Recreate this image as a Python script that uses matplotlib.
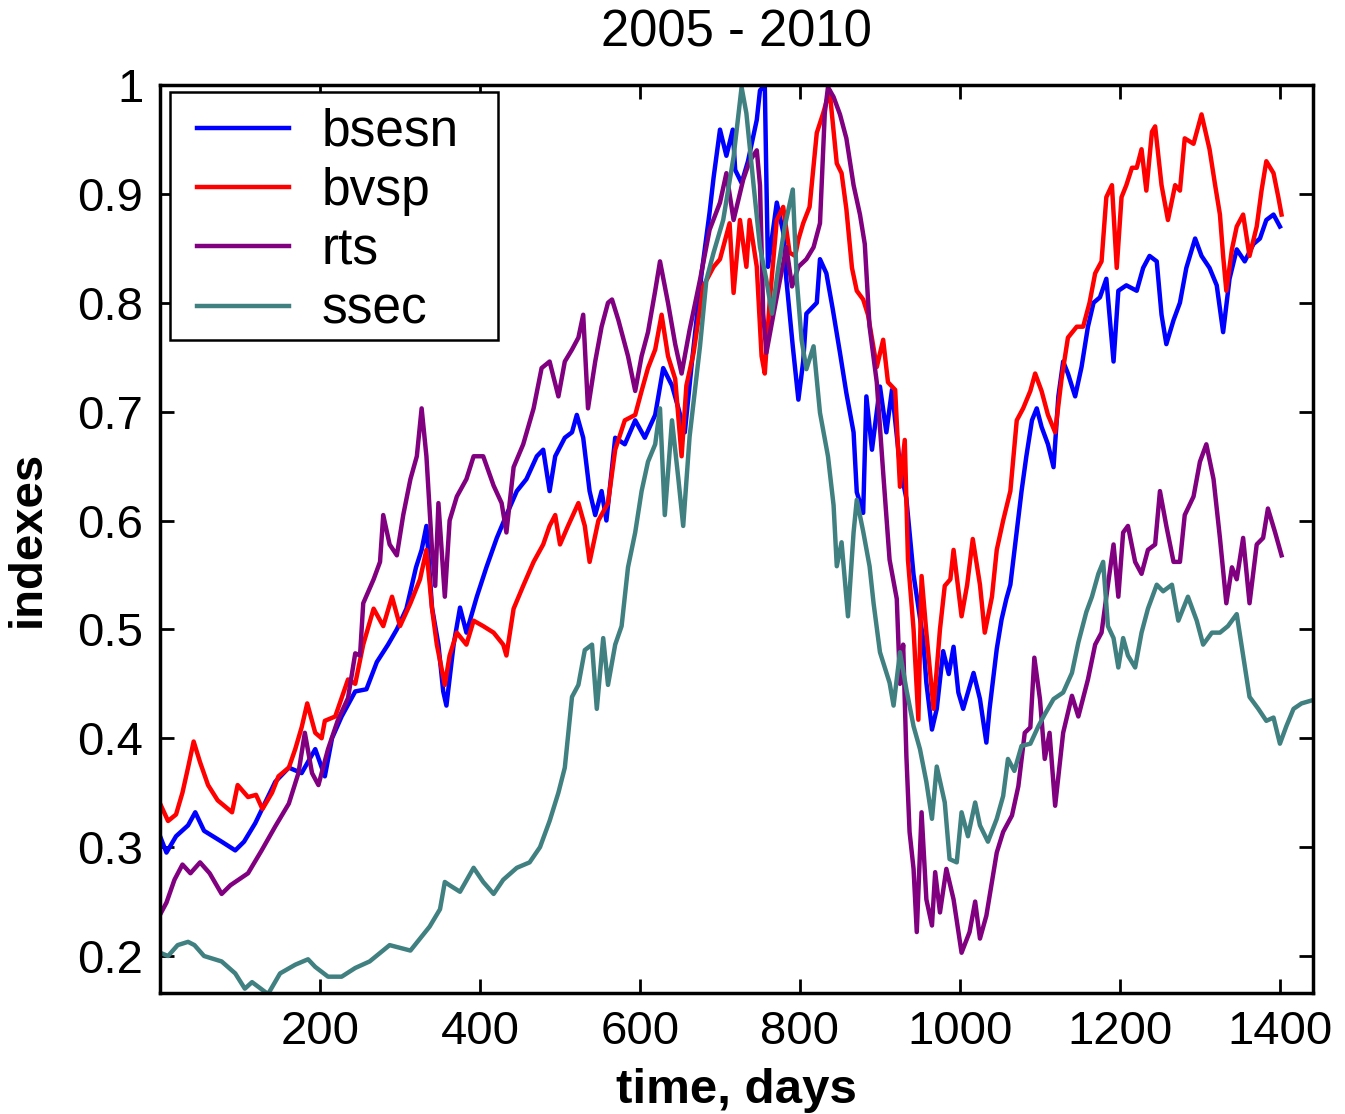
import matplotlib
matplotlib.use("Agg")
import matplotlib.pyplot as plt
from matplotlib.patches import Rectangle
from matplotlib.ticker import FuncFormatter

plt.rcParams['font.family'] = ['Liberation Sans', 'DejaVu Sans']

# values (day, normalised index)
bsesn_x = [0, 8, 20, 35, 44, 55, 77, 94, 105, 119, 144, 161, 177, 194, 206, 215, 227, 244, 258, 271,
           285, 296, 308, 320, 327, 333, 340, 348, 354, 358, 367, 375, 383, 396, 408, 421, 433, 446, 458, 471,
           479, 487, 494, 506, 515, 521, 529, 537, 544, 552, 558, 569, 581, 594, 606, 619, 629, 640, 648, 656,
           665, 677, 687, 692, 700, 708, 716, 719, 727, 735, 746, 750, 756, 758, 760, 771, 779, 783, 791, 798,
           804, 808, 821, 825, 833, 841, 850, 858, 867, 871, 879, 883, 890, 900, 908, 915, 925, 933, 942, 954,
           958, 965, 971, 979, 986, 992, 998, 1004, 1017, 1025, 1033, 1037, 1046, 1052, 1058, 1063, 1069, 1077, 1083, 1090,
           1096, 1102, 1110, 1117, 1123, 1129, 1135, 1144, 1152, 1160, 1167, 1175, 1183, 1192, 1198, 1208, 1221, 1229, 1237, 1246,
           1252, 1258, 1267, 1275, 1283, 1294, 1302, 1312, 1321, 1329, 1337, 1346, 1356, 1367, 1375, 1383, 1392, 1400]
bsesn_y = [0.31, 0.295, 0.31, 0.32, 0.332, 0.315, 0.305, 0.297, 0.305, 0.322, 0.36, 0.373, 0.368, 0.39, 0.365, 0.40, 0.42, 0.443, 0.445, 0.47,
           0.486, 0.5, 0.519, 0.557, 0.573, 0.595, 0.52, 0.486, 0.443, 0.43, 0.486, 0.52, 0.497, 0.53, 0.557, 0.584, 0.605, 0.627, 0.638, 0.659,
           0.665, 0.627, 0.659, 0.676, 0.681, 0.697, 0.676, 0.627, 0.605, 0.627, 0.6, 0.676, 0.67, 0.692, 0.676, 0.697, 0.74, 0.724, 0.703, 0.681,
           0.746, 0.827, 0.883, 0.915, 0.959, 0.935, 0.959, 0.922, 0.91, 0.93, 0.968, 0.995, 1.0, 0.913, 0.833, 0.892, 0.865, 0.821, 0.76, 0.711,
           0.746, 0.79, 0.8, 0.84, 0.827, 0.794, 0.754, 0.717, 0.681, 0.626, 0.607, 0.714, 0.665, 0.723, 0.681, 0.72, 0.65, 0.62, 0.55, 0.491,
           0.451, 0.408, 0.427, 0.48, 0.459, 0.484, 0.442, 0.427, 0.46, 0.436, 0.396, 0.427, 0.482, 0.509, 0.528, 0.541, 0.578, 0.627, 0.659, 0.692,
           0.703, 0.686, 0.67, 0.649, 0.714, 0.746, 0.735, 0.714, 0.741, 0.778, 0.8, 0.805, 0.822, 0.746, 0.811, 0.816, 0.811, 0.832, 0.843, 0.838,
           0.789, 0.762, 0.784, 0.8, 0.832, 0.859, 0.843, 0.832, 0.816, 0.773, 0.822, 0.849, 0.838, 0.854, 0.859, 0.876, 0.881, 0.87]

bvsp_x = [0, 10, 20, 28, 35, 42, 50, 60, 72, 90, 97, 110, 120, 128, 140, 148, 161, 169, 177, 184,
          194, 202, 206, 219, 227, 235, 244, 254, 267, 279, 290, 300, 313, 325, 333, 340, 346, 356, 362, 371,
          383, 392, 404, 417, 429, 433, 442, 454, 467, 479, 487, 494, 500, 510, 523, 531, 537, 548, 560, 569,
          581, 594, 602, 610, 619, 627, 635, 644, 652, 658, 667, 679, 692, 700, 712, 717, 725, 733, 737, 746,
          752, 756, 762, 771, 779, 787, 794, 798, 804, 812, 821, 829, 837, 846, 852, 858, 865, 871, 879, 885,
          896, 904, 910, 919, 925, 931, 935, 942, 948, 952, 958, 967, 975, 981, 988, 992, 1002, 1009, 1016, 1025,
          1031, 1040, 1046, 1054, 1063, 1071, 1079, 1088, 1094, 1102, 1110, 1119, 1127, 1135, 1146, 1154, 1162, 1169, 1177, 1183,
          1190, 1196, 1202, 1208, 1215, 1221, 1227, 1233, 1240, 1244, 1252, 1260, 1269, 1275, 1281, 1292, 1302, 1312, 1319, 1325,
          1329, 1333, 1340, 1346, 1354, 1362, 1371, 1377, 1383, 1392, 1398, 1402]
bvsp_y = [0.34, 0.324, 0.33, 0.35, 0.373, 0.397, 0.378, 0.357, 0.343, 0.332, 0.357, 0.346, 0.348, 0.335, 0.35, 0.365, 0.373, 0.39, 0.41, 0.432,
          0.405, 0.40, 0.416, 0.42, 0.437, 0.454, 0.45, 0.486, 0.519, 0.503, 0.53, 0.503, 0.524, 0.546, 0.573, 0.519, 0.486, 0.449, 0.476, 0.497,
          0.486, 0.508, 0.503, 0.497, 0.486, 0.476, 0.519, 0.54, 0.562, 0.578, 0.595, 0.605, 0.578, 0.595, 0.616, 0.595, 0.562, 0.6, 0.616, 0.665,
          0.692, 0.697, 0.719, 0.74, 0.757, 0.789, 0.751, 0.73, 0.659, 0.724, 0.754, 0.815, 0.833, 0.84, 0.873, 0.809, 0.876, 0.833, 0.876, 0.833,
          0.751, 0.735, 0.8, 0.876, 0.888, 0.846, 0.843, 0.858, 0.873, 0.888, 0.956, 0.974, 0.995, 0.928, 0.919, 0.886, 0.832, 0.811, 0.803, 0.789,
          0.741, 0.766, 0.727, 0.72, 0.631, 0.674, 0.564, 0.5, 0.417, 0.549, 0.497, 0.427, 0.5, 0.54, 0.546, 0.573, 0.512, 0.541, 0.583, 0.541,
          0.497, 0.53, 0.573, 0.6, 0.627, 0.692, 0.703, 0.719, 0.735, 0.719, 0.697, 0.681, 0.73, 0.768, 0.778, 0.778, 0.8, 0.827, 0.838, 0.897,
          0.908, 0.832, 0.897, 0.908, 0.924, 0.924, 0.941, 0.903, 0.957, 0.962, 0.908, 0.876, 0.908, 0.903, 0.951, 0.946, 0.973, 0.941, 0.908, 0.881,
          0.843, 0.811, 0.849, 0.87, 0.881, 0.843, 0.87, 0.903, 0.93, 0.919, 0.897, 0.881]

rts_x = [0, 8, 18, 28, 38, 50, 62, 77, 88, 110, 127, 144, 161, 173, 181, 190, 198, 210, 222, 235,
         244, 250, 254, 267, 275, 279, 287, 296, 304, 313, 321, 327, 333, 340, 344, 348, 356, 362, 371, 383,
         392, 404, 417, 427, 433, 442, 454, 467, 477, 487, 498, 506, 515, 523, 529, 535, 544, 552, 560, 565,
         573, 585, 594, 602, 610, 619, 625, 635, 644, 652, 662, 675, 687, 700, 708, 717, 729, 737, 746, 750,
         754, 758, 767, 775, 783, 790, 798, 808, 817, 825, 831, 835, 842, 850, 858, 867, 875, 881, 887, 896,
         904, 912, 921, 925, 929, 933, 937, 942, 946, 952, 958, 965, 969, 975, 983, 992, 1002, 1012, 1019, 1025,
         1033, 1040, 1046, 1054, 1065, 1073, 1081, 1088, 1093, 1100, 1106, 1112, 1119, 1129, 1140, 1148, 1160, 1169, 1177, 1185,
         1192, 1198, 1204, 1210, 1219, 1227, 1235, 1244, 1250, 1258, 1267, 1275, 1281, 1292, 1300, 1308, 1317, 1325, 1333, 1340,
         1346, 1354, 1362, 1371, 1379, 1385, 1394, 1402]
rts_y = [0.238, 0.249, 0.27, 0.284, 0.276, 0.286, 0.276, 0.257, 0.265, 0.276, 0.297, 0.319, 0.34, 0.368, 0.405, 0.368, 0.357, 0.39, 0.416, 0.437,
         0.478, 0.476, 0.524, 0.546, 0.562, 0.605, 0.578, 0.568, 0.605, 0.638, 0.659, 0.703, 0.659, 0.573, 0.54, 0.616, 0.53, 0.6, 0.622, 0.638,
         0.659, 0.659, 0.632, 0.616, 0.589, 0.649, 0.67, 0.703, 0.74, 0.746, 0.714, 0.746, 0.757, 0.768, 0.789, 0.703, 0.746, 0.778, 0.8, 0.803,
         0.784, 0.751, 0.719, 0.751, 0.773, 0.811, 0.838, 0.8, 0.762, 0.735, 0.775, 0.821, 0.867, 0.892, 0.919, 0.876, 0.913, 0.93, 0.94, 0.908,
         0.79, 0.754, 0.79, 0.821, 0.851, 0.815, 0.833, 0.84, 0.851, 0.873, 0.974, 0.998, 0.989, 0.973, 0.951, 0.908, 0.881, 0.854, 0.778, 0.727,
         0.644, 0.564, 0.528, 0.45, 0.486, 0.384, 0.314, 0.28, 0.222, 0.332, 0.252, 0.228, 0.277, 0.24, 0.28, 0.252, 0.203, 0.222, 0.25, 0.216,
         0.237, 0.268, 0.295, 0.314, 0.329, 0.356, 0.405, 0.41, 0.474, 0.436, 0.381, 0.405, 0.338, 0.405, 0.439, 0.42, 0.454, 0.486, 0.497, 0.541,
         0.578, 0.53, 0.589, 0.595, 0.562, 0.551, 0.573, 0.578, 0.627, 0.595, 0.562, 0.562, 0.605, 0.622, 0.654, 0.67, 0.638, 0.584, 0.524, 0.557,
         0.546, 0.584, 0.524, 0.578, 0.584, 0.611, 0.589, 0.568]

ssec_x = [0, 10, 22, 35, 43, 55, 77, 94, 106, 115, 135, 150, 169, 185, 194, 210, 227, 244, 262, 287,
          313, 337, 350, 356, 362, 375, 392, 404, 417, 429, 446, 462, 475, 487, 498, 506, 515, 523, 531, 540,
          546, 554, 560, 569, 577, 585, 594, 602, 610, 619, 625, 631, 640, 648, 654, 662, 675, 683, 692, 704,
          717, 727, 733, 742, 750, 758, 765, 773, 781, 791, 796, 802, 808, 817, 825, 835, 842, 846, 852, 860,
          867, 871, 879, 887, 892, 900, 912, 917, 925, 933, 942, 950, 958, 965, 971, 981, 987, 996, 1002, 1010,
          1019, 1025, 1035, 1046, 1054, 1060, 1068, 1077, 1088, 1098, 1106, 1117, 1129, 1140, 1148, 1158, 1165, 1173, 1179, 1185,
          1192, 1198, 1204, 1210, 1219, 1227, 1235, 1246, 1254, 1265, 1273, 1285, 1296, 1304, 1315, 1325, 1335, 1346, 1354, 1362,
          1373, 1383, 1392, 1400, 1408, 1417, 1427, 1441]
ssec_y = [0.203, 0.2, 0.21, 0.213, 0.21, 0.2, 0.195, 0.184, 0.17, 0.176, 0.165, 0.184, 0.192, 0.197, 0.19, 0.181, 0.181, 0.189, 0.195, 0.21,
          0.205, 0.227, 0.243, 0.268, 0.265, 0.259, 0.281, 0.268, 0.257, 0.27, 0.281, 0.286, 0.3, 0.324, 0.35, 0.373, 0.438, 0.449, 0.481, 0.486,
          0.427, 0.492, 0.449, 0.486, 0.503, 0.557, 0.589, 0.627, 0.654, 0.67, 0.703, 0.605, 0.692, 0.638, 0.595, 0.677, 0.76, 0.821, 0.846, 0.876,
          0.934, 0.998, 0.974, 0.908, 0.851, 0.821, 0.79, 0.833, 0.87, 0.904, 0.821, 0.766, 0.739, 0.76, 0.699, 0.659, 0.614, 0.558, 0.58, 0.512,
          0.589, 0.619, 0.59, 0.558, 0.524, 0.479, 0.451, 0.43, 0.479, 0.445, 0.411, 0.39, 0.36, 0.326, 0.374, 0.341, 0.289, 0.286, 0.332, 0.31,
          0.341, 0.32, 0.305, 0.326, 0.347, 0.381, 0.37, 0.393, 0.395, 0.411, 0.422, 0.436, 0.442, 0.46, 0.488, 0.516, 0.53, 0.551, 0.562, 0.503,
          0.492, 0.465, 0.492, 0.476, 0.465, 0.497, 0.519, 0.541, 0.535, 0.541, 0.508, 0.53, 0.508, 0.486, 0.497, 0.497, 0.503, 0.514, 0.476, 0.438,
          0.427, 0.416, 0.419, 0.395, 0.411, 0.427, 0.432, 0.435]

names = ['bsesn', 'bvsp', 'rts', 'ssec']
colors = ['#0000ff', '#ff0000', '#800080', '#408080']
xticks = [200, 400, 600, 800, 1000, 1200, 1400]
yticks = [0.2, 0.3, 0.4, 0.5, 0.6, 0.7, 0.8, 0.9, 1.0]

fig = plt.figure(figsize=(13.45, 11.14), dpi=100)
ax = fig.add_axes([0.119, 0.1086, 0.857, 0.8151])

series = [(bsesn_x, bsesn_y), (bvsp_x, bvsp_y), (rts_x, rts_y), (ssec_x, ssec_y)]
for (xs, ys), name, c in zip(series, names, colors):
    ax.plot(xs, ys, color=c, lw=3.2, label=name)

ax.set_xlim(0, 1441)
ax.set_ylim(0.166, 1.0)
ax.set_xticks(xticks)
ax.set_yticks(yticks)
ax.yaxis.set_major_formatter(FuncFormatter(lambda v, p: '%g' % round(v, 1)))
ax.tick_params(direction='in', length=10, width=2, labelsize=34, top=True, right=True, pad=12)
for s in ax.spines.values():
    s.set_linewidth(2.5)

ax.set_title('2005 - 2010', fontsize=36.5, pad=28)
ax.set_xlabel('time, days', fontsize=35.5, fontweight='bold', labelpad=10)
ax.set_ylabel('indexes', fontsize=34, fontweight='bold', labelpad=20)

# legend box drawn separately so its padding can match the MATLAB one
ax.add_patch(Rectangle((0.0087, 0.7192), 0.2844, 0.2731, transform=ax.transAxes,
                       facecolor='white', edgecolor='black', lw=1.8, zorder=4))
leg = ax.legend(loc='upper left', bbox_to_anchor=(0.032, 0.975), borderaxespad=0,
                fontsize=37, handlelength=1.8, handletextpad=0.62, labelspacing=0.2,
                borderpad=0, frameon=False)
leg.set_zorder(5)
for l in leg.get_lines():
    l.set_linewidth(3.2)

fig.savefig('out.png', dpi=100)
